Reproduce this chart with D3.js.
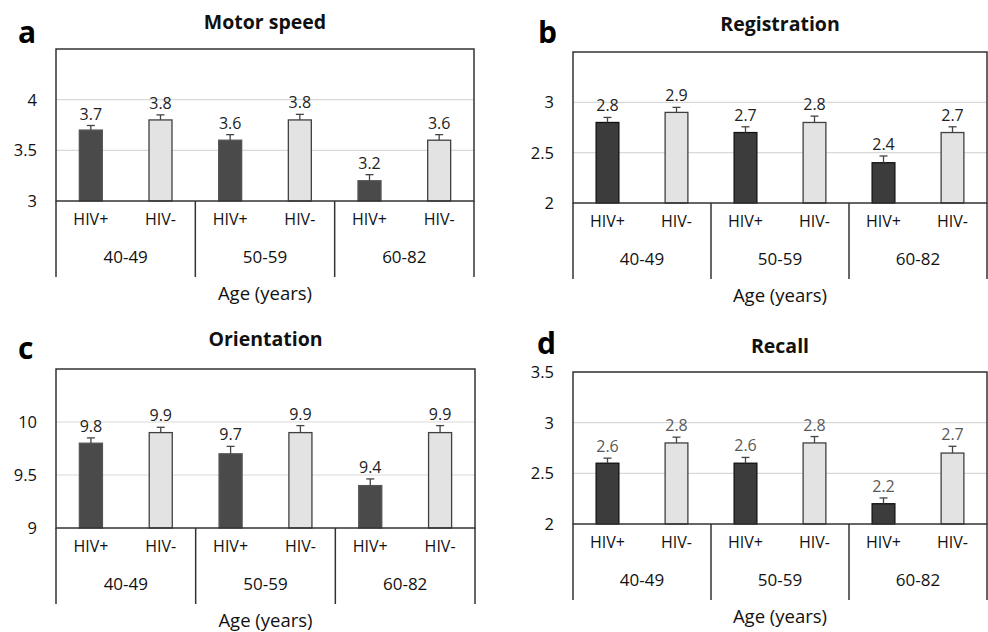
<!DOCTYPE html>
<html lang="en">

<head>
    <meta charset="UTF-8">
    <script src="https://d3js.org/d3.v7.min.js"></script>
    <title>Cognitive scores by age and HIV status</title>
    <style>
        body { margin: 0; background: #fff; }
        text { font-family: "Open Sans", "Noto Sans", sans-serif; }
    </style>
</head>

<body>
    <div id="chart"></div>
    <script>
        const width = 988;
        const height = 632;

        // categories
        const ageGroups = ["40-49", "50-59", "60-82"];
        const hivStatus = ["HIV+", "HIV-"];

        // means, in order 40-49 HIV+, 40-49 HIV-, 50-59 HIV+, ...
        const motorSpeed = [3.7, 3.8, 3.6, 3.8, 3.2, 3.6];
        const motorSpeedErr = [0.045, 0.05, 0.055, 0.055, 0.06, 0.055];
        const registration = [2.8, 2.9, 2.7, 2.8, 2.4, 2.7];
        const registrationErr = [0.05, 0.05, 0.057, 0.063, 0.067, 0.057];
        const orientation = [9.8, 9.9, 9.7, 9.9, 9.4, 9.9];
        const orientationErr = [0.05, 0.05, 0.07, 0.066, 0.063, 0.066];
        const recall = [2.6, 2.8, 2.6, 2.8, 2.2, 2.7];
        const recallErr = [0.05, 0.057, 0.057, 0.063, 0.057, 0.067];

        // y ticks per panel
        const motorTicks = [3, 3.5, 4];
        const registrationTicks = [2, 2.5, 3];
        const orientationTicks = [9, 9.5, 10];
        const recallTicks = [2, 2.5, 3, 3.5];

        const panels = [
            { letter: "a", title: "Motor speed", values: motorSpeed, err: motorSpeedErr, domain: [3, 4.5], ticks: motorTicks,
              x0: 56, x1: 474, top: 49, bottom: 201, letterX: 18, letterY: 43, titleY: 29, dark: "#4a4a4a", darkStroke: "#555", labelColor: "#222" },
            { letter: "b", title: "Registration", values: registration, err: registrationErr, domain: [2, 3.5], ticks: registrationTicks,
              x0: 573, x1: 987, top: 52, bottom: 203, letterX: 538, letterY: 43, titleY: 31, dark: "#3c3c3c", darkStroke: "#111", labelColor: "#222" },
            { letter: "c", title: "Orientation", values: orientation, err: orientationErr, domain: [9, 10.5], ticks: orientationTicks,
              x0: 56, x1: 475, top: 369, bottom: 528, letterX: 18, letterY: 359, titleY: 346, dark: "#4a4a4a", darkStroke: "#555", labelColor: "#222" },
            { letter: "d", title: "Recall", values: recall, err: recallErr, domain: [2, 3.5], ticks: recallTicks,
              x0: 573, x1: 987, top: 372, bottom: 524, letterX: 537, letterY: 354, titleY: 353, dark: "#3c3c3c", darkStroke: "#111", labelColor: "#595959" }
        ];

        const svg = d3.select("#chart")
            .append("svg")
            .attr("width", width)
            .attr("height", height);

        panels.forEach(function (p) {
            const g = svg.append("g");
            const cats = [];
            ageGroups.forEach(function (a) {
                hivStatus.forEach(function (h) {
                    cats.push(a + "|" + h);
                });
            });

            const x = d3.scaleBand()
                .domain(cats)
                .range([p.x0, p.x1])
                .paddingInner(0.67)
                .paddingOuter(0.335);

            const y = d3.scaleLinear()
                .domain(p.domain)
                .range([p.bottom, p.top]);

            const groupX = d3.scaleBand()
                .domain(ageGroups)
                .range([p.x0, p.x1]);

            // gridlines
            g.selectAll(".grid")
                .data(p.ticks.filter(function (t) { return t > p.domain[0]; }))
                .enter()
                .append("line")
                .attr("x1", p.x0)
                .attr("x2", p.x1)
                .attr("y1", function (d) { return y(d); })
                .attr("y2", function (d) { return y(d); })
                .attr("stroke", "#d9d9d9")
                .attr("stroke-width", 1.2);

            // y tick labels
            g.selectAll(".tick")
                .data(p.ticks)
                .enter()
                .append("text")
                .attr("x", p.x0 - 19)
                .attr("y", function (d) { return y(d); })
                .attr("dy", "0.36em")
                .attr("text-anchor", "end")
                .attr("font-size", 16.5)
                .attr("fill", "#111")
                .text(function (d) { return d; });

            // bars
            g.selectAll(".bar")
                .data(p.values)
                .enter()
                .append("rect")
                .attr("x", function (d, i) { return x(cats[i]); })
                .attr("y", function (d) { return y(d); })
                .attr("width", x.bandwidth())
                .attr("height", function (d) { return p.bottom - y(d); })
                .attr("fill", function (d, i) { return i % 2 === 0 ? p.dark : "#e3e3e3"; })
                .attr("stroke", function (d, i) { return i % 2 === 0 ? p.darkStroke : "#404040"; })
                .attr("stroke-width", 1.3);

            // error bars (upper)
            const eb = g.selectAll(".err")
                .data(p.values)
                .enter()
                .append("g")
                .attr("stroke", "#444")
                .attr("stroke-width", 1.3);
            eb.append("line")
                .attr("x1", function (d, i) { return x(cats[i]) + x.bandwidth() / 2; })
                .attr("x2", function (d, i) { return x(cats[i]) + x.bandwidth() / 2; })
                .attr("y1", function (d) { return y(d); })
                .attr("y2", function (d, i) { return y(d + p.err[i]); });
            eb.append("line")
                .attr("x1", function (d, i) { return x(cats[i]) + x.bandwidth() / 2 - 4; })
                .attr("x2", function (d, i) { return x(cats[i]) + x.bandwidth() / 2 + 4; })
                .attr("y1", function (d, i) { return y(d + p.err[i]); })
                .attr("y2", function (d, i) { return y(d + p.err[i]); });

            // value labels
            g.selectAll(".val")
                .data(p.values)
                .enter()
                .append("text")
                .attr("x", function (d, i) { return x(cats[i]) + x.bandwidth() / 2; })
                .attr("y", function (d, i) { return y(d + p.err[i]) - 6; })
                .attr("text-anchor", "middle")
                .attr("font-size", 16)
                .attr("fill", p.labelColor)
                .text(function (d) { return d.toFixed(1); });

            // plot frame
            g.append("rect")
                .attr("x", p.x0)
                .attr("y", p.top)
                .attr("width", p.x1 - p.x0)
                .attr("height", p.bottom - p.top)
                .attr("fill", "none")
                .attr("stroke", "#333")
                .attr("stroke-width", 1.5);

            // category dividers
            const divBottom = p.bottom + 76;
            const divs = ageGroups.map(function (a) { return groupX(a); }).concat([p.x1]);
            g.selectAll(".div")
                .data(divs)
                .enter()
                .append("line")
                .attr("x1", function (d) { return d; })
                .attr("x2", function (d) { return d; })
                .attr("y1", p.bottom)
                .attr("y2", divBottom)
                .attr("stroke", "#333")
                .attr("stroke-width", 1.5);

            // HIV labels
            g.selectAll(".cat")
                .data(cats)
                .enter()
                .append("text")
                .attr("x", function (d) { return x(d) + x.bandwidth() / 2; })
                .attr("y", p.bottom + 18)
                .attr("dy", "0.36em")
                .attr("text-anchor", "middle")
                .attr("font-size", 16)
                .attr("fill", "#111")
                .text(function (d) { return d.split("|")[1]; });

            // age group labels
            g.selectAll(".grp")
                .data(ageGroups)
                .enter()
                .append("text")
                .attr("x", function (d) { return groupX(d) + groupX.bandwidth() / 2; })
                .attr("y", p.bottom + 56)
                .attr("dy", "0.36em")
                .attr("text-anchor", "middle")
                .attr("font-size", 17)
                .attr("fill", "#111")
                .text(function (d) { return d; });

            // axis title
            g.append("text")
                .attr("x", (p.x0 + p.x1) / 2)
                .attr("y", p.bottom + 92)
                .attr("dy", "0.36em")
                .attr("text-anchor", "middle")
                .attr("font-size", 18.5)
                .attr("fill", "#111")
                .text("Age (years)");

            // panel title
            g.append("text")
                .attr("x", (p.x0 + p.x1) / 2)
                .attr("y", p.titleY)
                .attr("text-anchor", "middle")
                .attr("font-size", 19.5)
                .attr("font-weight", "bold")
                .attr("fill", "#111")
                .text(p.title);

            // panel letter
            g.append("text")
                .attr("x", p.letterX)
                .attr("y", p.letterY)
                .attr("font-family", "'Liberation Sans', Arial, sans-serif")
                .attr("font-size", 30)
                .attr("font-weight", "bold")
                .attr("fill", "#000")
                .text(p.letter);
        });
    </script>
</body>

</html>
